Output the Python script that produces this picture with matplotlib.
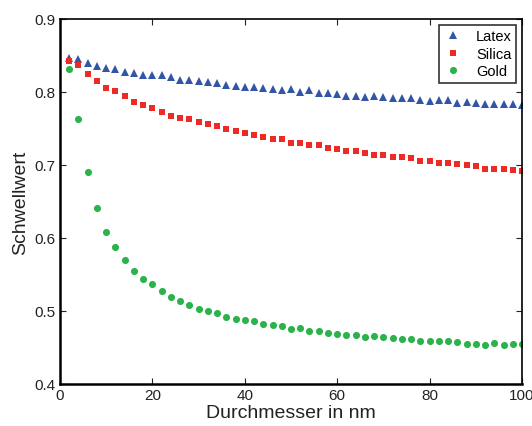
import numpy as np
import matplotlib.pyplot as plt

plt.rcParams['font.family'] = ['Liberation Sans', 'DejaVu Sans']

# particle diameter in nm
durchmesser = np.arange(2, 101, 2)

latex = [0.846, 0.845, 0.840, 0.835, 0.833, 0.831, 0.827, 0.8255, 0.823, 0.823,
         0.823, 0.820, 0.817, 0.817, 0.8155, 0.8136, 0.812, 0.810, 0.808, 0.807,
         0.807, 0.8055, 0.804, 0.803, 0.804, 0.800, 0.8025, 0.799, 0.799, 0.797,
         0.795, 0.794, 0.793, 0.795, 0.793, 0.7914, 0.7914, 0.792, 0.789, 0.788,
         0.789, 0.7885, 0.7855, 0.786, 0.7846, 0.783, 0.784, 0.783, 0.783, 0.782]

silica = [0.842, 0.837, 0.8246, 0.8146, 0.805, 0.801, 0.794, 0.7864, 0.782, 0.778,
          0.773, 0.767, 0.764, 0.7628, 0.7587, 0.756, 0.7528, 0.749, 0.7464, 0.7437,
          0.7405, 0.7386, 0.736, 0.7355, 0.730, 0.730, 0.7273, 0.7273, 0.7236, 0.7218,
          0.7195, 0.7195, 0.7164, 0.714, 0.714, 0.7113, 0.7113, 0.710, 0.7059, 0.706,
          0.7031, 0.703, 0.7013, 0.7004, 0.699, 0.695, 0.695, 0.695, 0.6936, 0.6914]

gold = [0.832, 0.7628, 0.690, 0.6417, 0.6077, 0.5872, 0.570, 0.5544, 0.544, 0.5367,
        0.5271, 0.5195, 0.5135, 0.508, 0.5026, 0.4995, 0.4967, 0.4917, 0.4885, 0.4872,
        0.4862, 0.4827, 0.4813, 0.4794, 0.475, 0.4763, 0.4731, 0.4722, 0.470, 0.4685,
        0.4676, 0.4671, 0.464, 0.4653, 0.464, 0.4636, 0.4617, 0.4622, 0.459, 0.4595,
        0.4585, 0.4585, 0.4576, 0.4554, 0.4548, 0.453, 0.4562, 0.454, 0.4548, 0.4544]

fig = plt.figure(figsize=(5.32, 4.27), dpi=100)
ax = fig.add_axes([0.1128, 0.0984, 0.8684, 0.8548])

ax.plot(durchmesser, latex, '^', color='#3355a8', markersize=6, markeredgewidth=0, label='Latex')
ax.plot(durchmesser, silica, 's', color='#ed2b26', markersize=4.8, markeredgewidth=0, label='Silica')
ax.plot(durchmesser, gold, 'o', color='#2bb34b', markersize=5.1, markeredgewidth=0, label='Gold')

ax.set_xlim(0, 100)
ax.set_ylim(0.4, 0.9)
ax.set_xticks([0, 20, 40, 60, 80, 100])
ax.set_yticks([0.4, 0.5, 0.6, 0.7, 0.8, 0.9])
ax.set_yticklabels(['0.4', '0.5', '0.6', '0.7', '0.8', '0.9'])
ax.tick_params(direction='in', top=True, right=True, length=4, width=0.8,
               labelsize=11, colors='#222222', pad=3)

for side in ['left', 'bottom']:
    ax.spines[side].set_linewidth(1.8)
for side in ['top', 'right']:
    ax.spines[side].set_linewidth(1.2)

ax.set_xlabel('Durchmesser in nm', fontsize=14, color='#222222', labelpad=1)
ax.set_ylabel('Schwellwert', fontsize=14, color='#222222', labelpad=4)

leg = ax.legend(loc='upper right', fontsize=10.5, frameon=True, fancybox=False,
                edgecolor='black', borderpad=0.3, handlelength=1.2,
                handletextpad=1.0, labelspacing=0.25, borderaxespad=0.4)
leg.get_frame().set_linewidth(1.2)

fig.savefig('out.png', dpi=100)
